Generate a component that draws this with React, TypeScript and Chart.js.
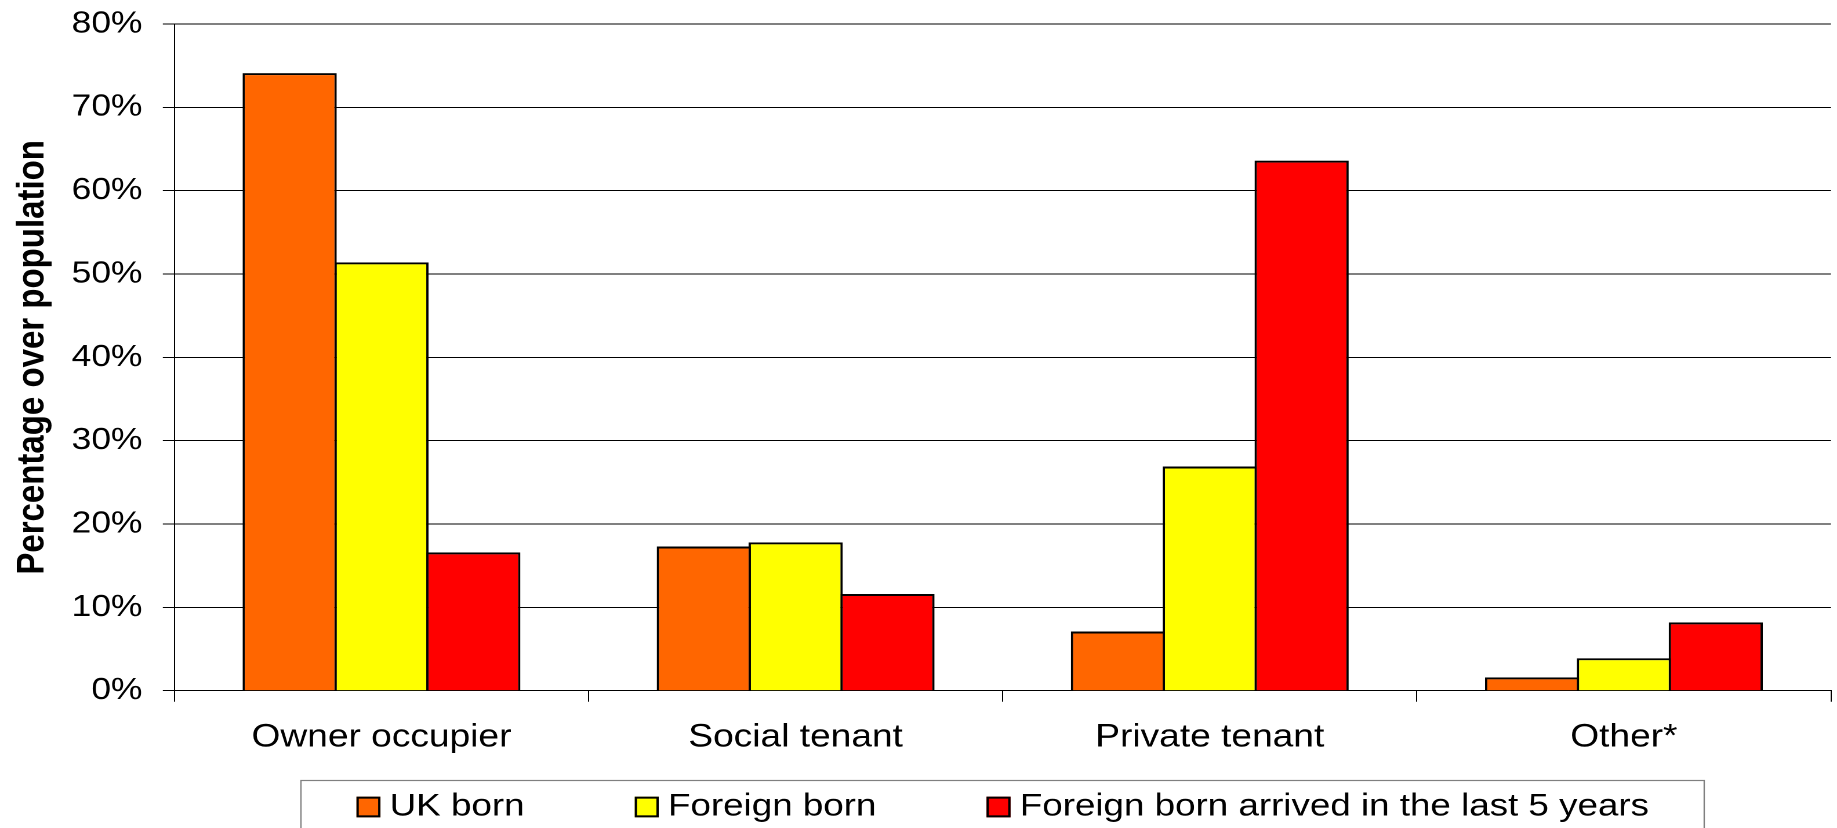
import React, { useEffect, useRef } from "react";
import { Chart, registerables } from "chart.js";

Chart.register(...registerables);

const categories = ["Owner occupier", "Social tenant", "Private tenant", "Other*"];
const seriesNames = ["UK born", "Foreign born", "Foreign born arrived in the last 5 years"];
const ukBorn = [74.1, 17.3, 7.1, 1.6];
const foreignBorn = [51.4, 17.8, 26.9, 3.9];
const recentArrivals = [16.6, 11.6, 63.6, 8.2];
const yTickLabels = ["0%", "10%", "20%", "30%", "40%", "50%", "60%", "70%", "80%"];
const seriesColors = ["#FF6600", "#FFFF00", "#FF0000"];

const CANVAS_W = 1584;
const CANVAS_H = 828;
const VIEW_W = 1837;
const FONT = "'Liberation Sans', Arial, Helvetica, sans-serif";

const boxedLegend = {
  id: "boxedLegend",
  afterDraw(chart: any) {
    const { ctx, chartArea } = chart;
    const fontSize = 31.7;
    const sq = 20.7;
    const gapText = 8;
    const gapItem = 95;
    const padX = 48;
    ctx.save();
    ctx.font = `${fontSize}px ${FONT}`;
    const items = chart.data.datasets.map((ds: any) => ({
      label: ds.label as string,
      color: ds.backgroundColor as string,
      w: ctx.measureText(ds.label).width,
    }));
    const content = items.reduce(
      (s: number, it: any, i: number) => s + sq + gapText + it.w + (i ? gapItem : 0),
      0
    );
    const cx = (chartArea.left + chartArea.right) / 2;
    const startX = cx - content / 2;
    const top = chartArea.bottom + 89.3;
    const cy = top + 27;
    ctx.strokeStyle = "#808080";
    ctx.lineWidth = 1.2;
    ctx.strokeRect(
      Math.round(startX - padX) + 0.5,
      Math.round(top) + 0.5,
      Math.round(content + 2 * padX),
      chart.height
    );
    let x = startX;
    items.forEach((it: any) => {
      const y0 = cy - sq / 2;
      ctx.fillStyle = it.color;
      ctx.fillRect(x, y0, sq, sq);
      ctx.strokeStyle = "#000";
      ctx.lineWidth = 2;
      ctx.strokeRect(x + 1, y0 + 1, sq - 2, sq - 2);
      ctx.fillStyle = "#000";
      ctx.textBaseline = "middle";
      ctx.textAlign = "left";
      ctx.fillText(it.label, x + sq + gapText, cy);
      x += sq + gapText + it.w + gapItem;
    });
    ctx.restore();
  },
};

export default function App() {
  const canvasRef = useRef<HTMLCanvasElement | null>(null);

  useEffect(() => {
    if (!canvasRef.current) return;
    const seriesValues = [ukBorn, foreignBorn, recentArrivals];
    const chart = new Chart(canvasRef.current, {
      type: "bar",
      data: {
        labels: categories,
        datasets: seriesNames.map((name, i) => ({
          label: name,
          data: seriesValues[i],
          backgroundColor: seriesColors[i],
          borderColor: "#000000",
          borderWidth: 2,
          categoryPercentage: 0.6653,
          barPercentage: 1.025,
        })),
      },
      options: {
        responsive: false,
        animation: false,
        devicePixelRatio: 2,
        layout: { padding: { left: 0, right: 5.2, top: 24, bottom: 54.7 } },
        plugins: {
          legend: { display: false },
          tooltip: { enabled: false },
          title: { display: false },
        },
        scales: {
          x: {
            offset: true,
            grid: {
              display: true,
              offset: true,
              drawOnChartArea: true,
              color: (c: any) => (c.index === categories.length ? "#000000" : "rgba(0,0,0,0)"),
              tickColor: "#000000",
              tickLength: 11,
              lineWidth: 1,
            },
            border: { display: true, color: "#000000", width: 1 },
            ticks: {
              color: "#000000",
              font: { family: FONT, size: 32 },
              padding: 16.6,
              maxRotation: 0,
              autoSkip: false,
            },
          },
          y: {
            min: 0,
            max: 80,
            ticks: {
              stepSize: 10,
              color: "#000000",
              font: { family: FONT, size: 30.5, lineHeight: 0.4 },
              padding: 17.6,
              callback: (_v: any, i: number) => yTickLabels[i],
            },
            grid: { color: "#000000", tickColor: "#000000", tickLength: 10, lineWidth: 1 },
            border: { display: true, color: "#000000", width: 1 },
            title: {
              display: true,
              text: "Percentage over population",
              color: "#000000",
              font: { family: FONT, size: 33, weight: "bold", lineHeight: 0.95 },
              padding: { top: 12.8, bottom: 0 },
            },
          },
        },
      },
      plugins: [boxedLegend],
    });
    return () => chart.destroy();
  }, []);

  return (
    <div
      style={{
        position: "fixed",
        left: 0,
        top: 0,
        width: VIEW_W,
        height: CANVAS_H,
        overflow: "hidden",
        background: "#ffffff",
      }}
    >
      <div
        style={{
          width: CANVAS_W,
          height: CANVAS_H,
          transform: `scaleX(${VIEW_W / CANVAS_W})`,
          transformOrigin: "left top",
        }}
      >
        <canvas
          ref={canvasRef}
          width={CANVAS_W}
          height={CANVAS_H}
          style={{ display: "block", width: CANVAS_W, height: CANVAS_H }}
        />
      </div>
    </div>
  );
}
